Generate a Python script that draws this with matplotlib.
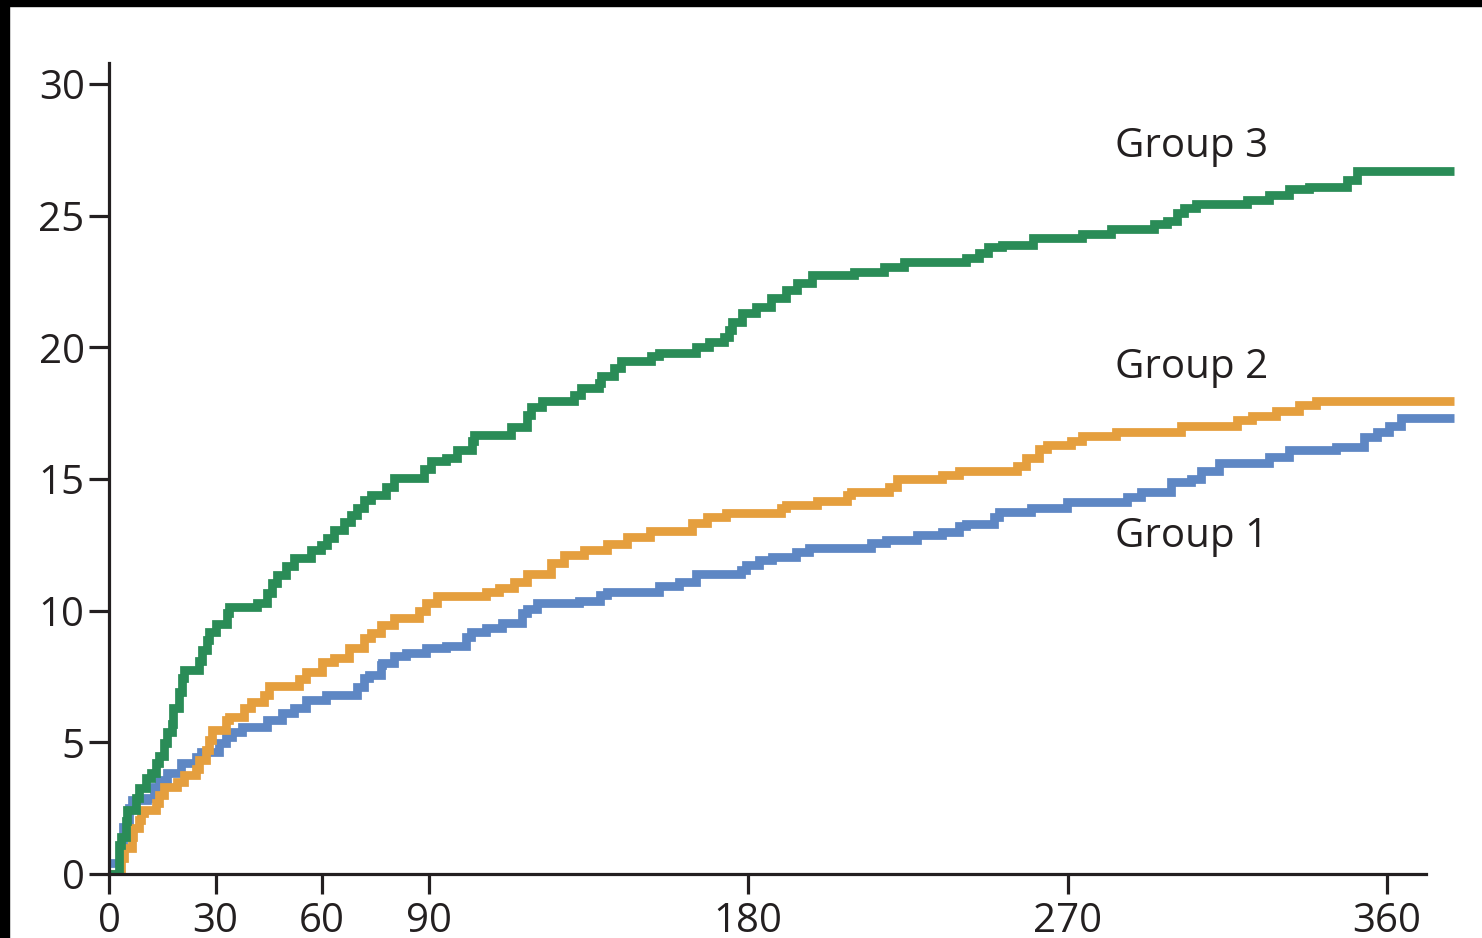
import matplotlib
matplotlib.use("Agg")
import matplotlib.pyplot as plt
from matplotlib.patches import Rectangle

# ---- data (days, cumulative %) ----
g3_days = [0, 2.8, 3.5, 4.8, 5.1, 7.6, 8.5, 10.4, 11.8, 13.2, 14.1, 15.5, 16.3, 17.7, 18.0,
           19.7, 20.6, 21.1, 25.4, 26.2, 27.6, 28.2, 30.1, 33.2, 33.8, 41.7, 44.5, 45.9,
           47.3, 49.9, 52.1, 56.9, 59.7, 61.4, 63.4, 66.2, 68.2, 69.9, 71.8, 73.8, 78.0,
           80.3, 88.7, 90.7, 94.9, 98.0, 102.3, 102.8, 113.2, 117.7, 118.9, 122.0, 131.0,
           132.9, 138.0, 138.6, 142.3, 144.2, 152.7, 154.9, 165.4, 169.0, 173.2, 174.6,
           175.5, 178.3, 182.3, 186.5, 190.7, 193.8, 198.0, 209.9, 218.3, 223.9, 241.4,
           245.1, 247.6, 251.5, 260.3, 274.1, 282.3, 294.4, 298.0, 300.8, 302.8, 306.2,
           320.6, 326.8, 332.4, 338.0, 348.7, 351.5, 379]
g3_vals = [0, 1.1, 1.4, 2.0, 2.43, 2.9, 3.27, 3.65, 3.85, 4.2, 4.5, 4.97, 5.4, 5.7, 6.3,
           6.9, 7.45, 7.75, 8.1, 8.5, 8.9, 9.2, 9.5, 9.9, 10.15, 10.3, 10.66, 11.05,
           11.35, 11.7, 12.0, 12.3, 12.5, 12.76, 13.07, 13.37, 13.63, 13.9, 14.2, 14.4, 14.7,
           15.04, 15.4, 15.7, 15.8, 16.1, 16.45, 16.67, 16.98, 17.43, 17.73, 17.98, 18.2,
           18.46, 18.66, 18.9, 19.2, 19.5, 19.67, 19.8, 20.03, 20.2, 20.4, 20.66,
           20.98, 21.3, 21.55, 21.87, 22.18, 22.44, 22.75, 22.86, 23.07, 23.24, 23.39,
           23.6, 23.8, 23.9, 24.15, 24.3, 24.5, 24.7, 24.8, 25.1, 25.3, 25.45,
           25.6, 25.8, 26.0, 26.1, 26.35, 26.7, 26.7]

g2_days = [0, 3.5, 4.2, 6.5, 6.7, 8.5, 9.0, 9.9, 13.2, 14.1, 15.5, 19.2, 21.1, 24.5, 25.4,
           27.3, 28.2, 29.0, 33.0, 33.8, 38.0, 40.0, 43.7, 45.1, 53.5, 55.5, 60.0, 63.4,
           67.6, 71.8, 73.8, 76.6, 80.3, 87.3, 89.3, 92.4, 106.2, 109.9, 114.1, 117.7,
           124.5, 128.2, 133.8, 140.3, 145.9, 152.4, 164.2, 168.5, 173.8, 189.3, 190.7,
           199.4, 207.9, 209.0, 219.7, 222.0, 234.6, 239.4, 255.8, 258.3, 262.0, 264.2,
           271.0, 274.1, 283.7, 302.0, 317.7, 322.0, 328.7, 335.2, 340.0, 379]
g2_vals = [0, 0.6, 1.0, 1.42, 1.74, 2.05, 2.3, 2.43, 2.7, 3.0, 3.3, 3.5, 3.76, 4.0, 4.33,
           4.7, 5.1, 5.47, 5.85, 5.97, 6.3, 6.55, 6.8, 7.14, 7.4, 7.68, 8.06, 8.2,
           8.58, 8.96, 9.15, 9.46, 9.72, 10.0, 10.3, 10.56, 10.72, 10.86, 11.1, 11.4,
           11.8, 12.1, 12.3, 12.53, 12.8, 13.04, 13.34, 13.56, 13.7, 13.9, 14.0,
           14.18, 14.4, 14.5, 14.7, 15.0, 15.15, 15.3, 15.5, 15.8, 16.14, 16.3,
           16.46, 16.65, 16.8, 17.0, 17.25, 17.4, 17.6, 17.8, 17.97, 17.97]

g1_days = [0, 3.0, 4.0, 5.5, 6.5, 10.7, 12.7, 14.1, 16.3, 20.3, 24.5, 25.9, 31.0, 33.0,
           34.6, 37.5, 44.5, 48.7, 52.1, 55.5, 61.1, 69.9, 71.8, 73.2, 76.6, 76.9, 80.3,
           83.7, 89.3, 94.9, 100.6, 102.0, 106.2, 110.7, 116.3, 117.7, 120.6, 132.4,
           138.3, 140.3, 154.9, 160.6, 165.4, 178.0, 179.4, 183.1, 186.8, 193.5, 197.2,
           214.6, 218.9, 227.6, 234.6, 239.4, 241.4, 249.3, 250.7, 259.7, 269.9, 286.8,
           290.7, 299.2, 304.8, 307.6, 312.7, 326.8, 332.4, 345.6, 353.5, 357.2, 360.6,
           363.9, 379]
g1_vals = [0.4, 1.0, 1.8, 2.5, 2.8, 2.9, 3.3, 3.57, 3.83, 4.2, 4.45, 4.65, 4.97, 5.2,
           5.4, 5.6, 5.85, 6.1, 6.3, 6.6, 6.8, 7.1, 7.43, 7.56, 7.94, 8.0, 8.28,
           8.4, 8.58, 8.67, 9.0, 9.2, 9.34, 9.55, 9.9, 10.06, 10.3, 10.38,
           10.6, 10.7, 10.94, 11.1, 11.4, 11.55, 11.74, 11.93, 12.05, 12.24, 12.37,
           12.56, 12.68, 12.87, 13.0, 13.22, 13.31, 13.54, 13.73, 13.89, 14.13, 14.3,
           14.5, 14.9, 15.0, 15.3, 15.6, 15.85, 16.1, 16.2, 16.6, 16.8, 17.0,
           17.3, 17.3]

group_names = ["Group 1", "Group 2", "Group 3"]
x_ticks = [0, 30, 60, 90, 180, 270, 360]
y_ticks = [0, 5, 10, 15, 20, 25, 30]

C_G1 = "#5e87c4"
C_G2 = "#e59f3e"
C_G3 = "#2a8c57"
TXT = "#231f20"
FS = 29

plt.rcParams['font.family'] = ['Open Sans', 'DejaVu Sans']

W, H = 1482, 938
fig = plt.figure(figsize=(W / 100, H / 100), dpi=100)
fig.patch.set_facecolor("white")
# black border bands (top and left)
fig.patches.append(Rectangle((0, 1 - 6 / H), 1, 6 / H, transform=fig.transFigure,
                             color="black", zorder=0))
fig.patches.append(Rectangle((0, 0), 9 / W, 1, transform=fig.transFigure,
                             color="black", zorder=0))

x0 = 109 / W
y0 = (H - 874) / H
ax = fig.add_axes([x0, y0, (109 + 380 * 3.55) / W - x0, (874 - 63) / H])
ax.set_xlim(0, 380)
ax.set_ylim(0, 30.8)

lw = 6.3
for d, v, c in [(g1_days, g1_vals, C_G1), (g2_days, g2_vals, C_G2), (g3_days, g3_vals, C_G3)]:
    ax.step(d, v, where="post", color=c, lw=lw, solid_capstyle="butt",
            solid_joinstyle="miter", zorder=3)

for s in ["top", "right"]:
    ax.spines[s].set_visible(False)
for s in ["left", "bottom"]:
    ax.spines[s].set_linewidth(2.3)
    ax.spines[s].set_color(TXT)
    ax.spines[s].set_zorder(4)
ax.spines["bottom"].set_bounds(0, 371)

ax.set_xticks(x_ticks)
ax.set_yticks(y_ticks)
ax.tick_params(axis="both", direction="out", length=14.5, width=2.3, color=TXT,
               labelsize=FS, labelcolor=TXT)
ax.tick_params(axis="x", pad=5)
ax.tick_params(axis="y", pad=3)

ax.text(283.4, 27.23, group_names[2], fontsize=FS, color=TXT, va="baseline", ha="left")
ax.text(283.4, 18.84, group_names[1], fontsize=FS, color=TXT, va="baseline", ha="left")
ax.text(283.4, 12.42, group_names[0], fontsize=FS, color=TXT, va="baseline", ha="left")

fig.savefig("out.png", dpi=100, facecolor=fig.get_facecolor())
